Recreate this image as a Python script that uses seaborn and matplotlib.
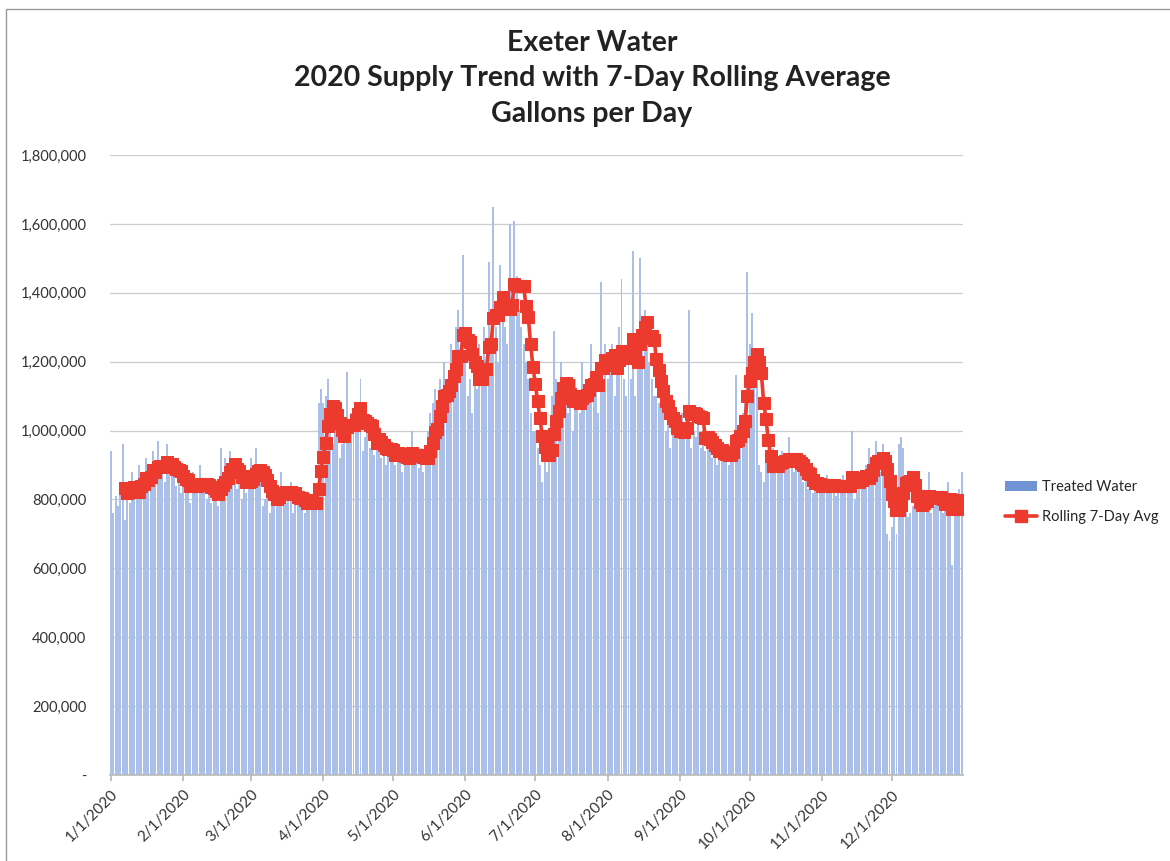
import numpy as np
import pandas as pd
import matplotlib
matplotlib.use("Agg")
import matplotlib.pyplot as plt
from matplotlib.ticker import FuncFormatter
from matplotlib.lines import Line2D
from matplotlib.patches import Patch, Rectangle
import seaborn as sns

# Daily treated water, thousands of gallons per day
jan = [940, 760, 810, 780, 850, 960, 740, 830, 790, 880, 810, 810, 900, 850, 870, 920, 830, 880, 940, 860,
       970, 880, 900, 850, 960, 890, 870, 910, 840, 880, 820]
feb = [860, 830, 850, 790, 880, 840, 820, 900, 830, 850, 800, 860, 790, 810, 830, 780, 950, 880, 920, 860,
       940, 880, 900, 830, 850, 800, 880, 820, 870]
mar = [920, 880, 950, 860, 900, 780, 800, 830, 760, 840, 810, 790, 830, 880, 820, 790, 800, 850, 760, 830,
       790, 810, 780, 760, 800, 820, 790, 770, 800, 1080, 1120]
apr = [1080, 1100, 1150, 1000, 960, 1050, 980, 920, 960, 1030, 1170, 1000, 1050, 990, 1010, 1080, 1150, 940,
       980, 1000, 950, 990, 930, 960, 1010, 920, 940, 900, 960, 930]
may = [950, 900, 960, 920, 880, 940, 910, 930, 1000, 900, 920, 890, 950, 880, 900, 1000, 1050, 1080, 1120,
       1000, 1150, 1100, 1200, 1080, 1150, 1250, 1180, 1300, 1350, 1200, 1510]
jun = [1200, 1100, 1150, 1050, 1180, 1120, 1250, 1200, 1300, 1150, 1490, 1250, 1650, 1300, 1200, 1480, 1350,
       1300, 1250, 1600, 1380, 1610, 1450, 1350, 1300, 1250, 1200, 1150, 1050, 1000]
jul = [1000, 950, 900, 850, 920, 880, 1000, 1100, 1290, 1150, 1050, 1200, 1080, 1100, 1050, 1120, 1000, 1150,
       1100, 1050, 1200, 1080, 1150, 1100, 1250, 1120, 1180, 1050, 1430, 1150, 1250]
aug = [1150, 1200, 1250, 1100, 1180, 1300, 1440, 1150, 1100, 1200, 1150, 1520, 1100, 1180, 1500, 1300, 1350,
       1250, 1200, 1150, 1100, 1100, 1080, 1120, 1050, 1000, 1050, 950, 1000, 1020, 980]
sep = [1000, 1050, 980, 1020, 1350, 950, 1000, 980, 1020, 950, 1000, 940, 980, 960, 920, 950, 900, 940, 960,
       920, 930, 900, 950, 960, 1160, 980, 1000, 1050, 1100, 1460]
oct_ = [1250, 1340, 1200, 1150, 900, 880, 850, 920, 900, 880, 950, 900, 880, 920, 940, 910, 890, 980, 900, 880,
        930, 900, 870, 850, 880, 830, 850, 820, 840, 860, 830]
nov = [850, 830, 870, 820, 840, 860, 810, 850, 830, 870, 820, 840, 850, 1000, 800, 820, 830, 850, 880, 900,
       950, 870, 920, 970, 900, 880, 960, 880, 700, 680]
dec = [720, 750, 700, 960, 980, 950, 870, 750, 760, 780, 800, 770, 810, 820, 790, 800, 880, 760, 780, 820,
       790, 810, 760, 780, 850, 800, 610, 790, 820, 830, 880]

month_labels = ["1/1/2020", "2/1/2020", "3/1/2020", "4/1/2020", "5/1/2020", "6/1/2020",
                "7/1/2020", "8/1/2020", "9/1/2020", "10/1/2020", "11/1/2020", "12/1/2020"]
y_ticks = [0, 200000, 400000, 600000, 800000, 1000000, 1200000, 1400000, 1600000, 1800000]

months = [jan, feb, mar, apr, may, jun, jul, aug, sep, oct_, nov, dec]
daily = np.concatenate([np.array(m, dtype=float) for m in months]) * 1000
dates = pd.date_range("2020-01-01", periods=len(daily), freq="D")
df = pd.DataFrame({"date": dates, "day": np.arange(len(daily)), "treated": daily})
df["rolling"] = df["treated"].rolling(7).mean()

month_pos = [int(df.index[(df["date"].dt.day == 1) & (df["date"].dt.month == m)][0]) for m in range(1, 13)]

sns.set_theme(style="white")
plt.rcParams["font.family"] = ["Lato", "DejaVu Sans"]

RED = "#ec3a2f"
fig = plt.figure(figsize=(11.7, 8.61), dpi=100)
ax = fig.add_axes([0.094, 0.0999, 0.729, 0.720])

sns.barplot(data=df, x="day", y="treated", native_scale=True, color="#aac0e8",
            saturation=1, width=0.85, ax=ax, edgecolor="none", zorder=2)
sns.lineplot(data=df, x="day", y="rolling", color=RED, marker="s", markersize=8,
             markeredgecolor=RED, linewidth=2.6, ax=ax, zorder=3)

ax.set_xlim(-0.5, len(daily) - 0.5)
ax.set_ylim(0, 1800000)
ax.set_yticks(y_ticks)
ax.yaxis.set_major_formatter(FuncFormatter(lambda v, p: "-" if v == 0 else f"{v:,.0f}"))
ax.set_xticks(month_pos)
ax.set_xticklabels(month_labels, rotation=45, ha="right", rotation_mode="anchor", fontsize=11, color="#333333")
ax.tick_params(axis="y", labelsize=10.5, colors="#333333", length=0, pad=17)
ax.tick_params(axis="x", length=4, color="#bbbbbb", pad=5, bottom=True)
ax.grid(axis="y", color="#cccccc", linewidth=0.9, zorder=0)
ax.set_axisbelow(True)
for s in ["left", "right", "top"]:
    ax.spines[s].set_visible(False)
ax.spines["bottom"].set_color("#bbbbbb")
ax.set_xlabel("")
ax.set_ylabel("")

title_kw = dict(ha="center", va="center", fontsize=20.5, fontweight="bold", color="#222222")
fig.text(0.506, 0.950, "Exeter Water", **title_kw)
fig.text(0.506, 0.909, "2020 Supply Trend with 7-Day Rolling Average", **title_kw)
fig.text(0.506, 0.868, "Gallons per Day", **title_kw)

handles = [Patch(facecolor="#7093d6", edgecolor="none"),
           Line2D([0], [0], color=RED, marker="s", markersize=8, linewidth=2.6)]
fig.legend(handles, ["Treated Water", "Rolling 7-Day Avg"], loc="center left",
           bbox_to_anchor=(0.848, 0.417), frameon=False, fontsize=10.5, handlelength=2.2,
           labelspacing=1.1, handletextpad=0.3)

fig.patches.append(Rectangle((0.005, -0.01), 1.2, 1.0, transform=fig.transFigure,
                             fill=False, edgecolor="#999999", linewidth=1.0))

fig.savefig("out.png", dpi=100)
